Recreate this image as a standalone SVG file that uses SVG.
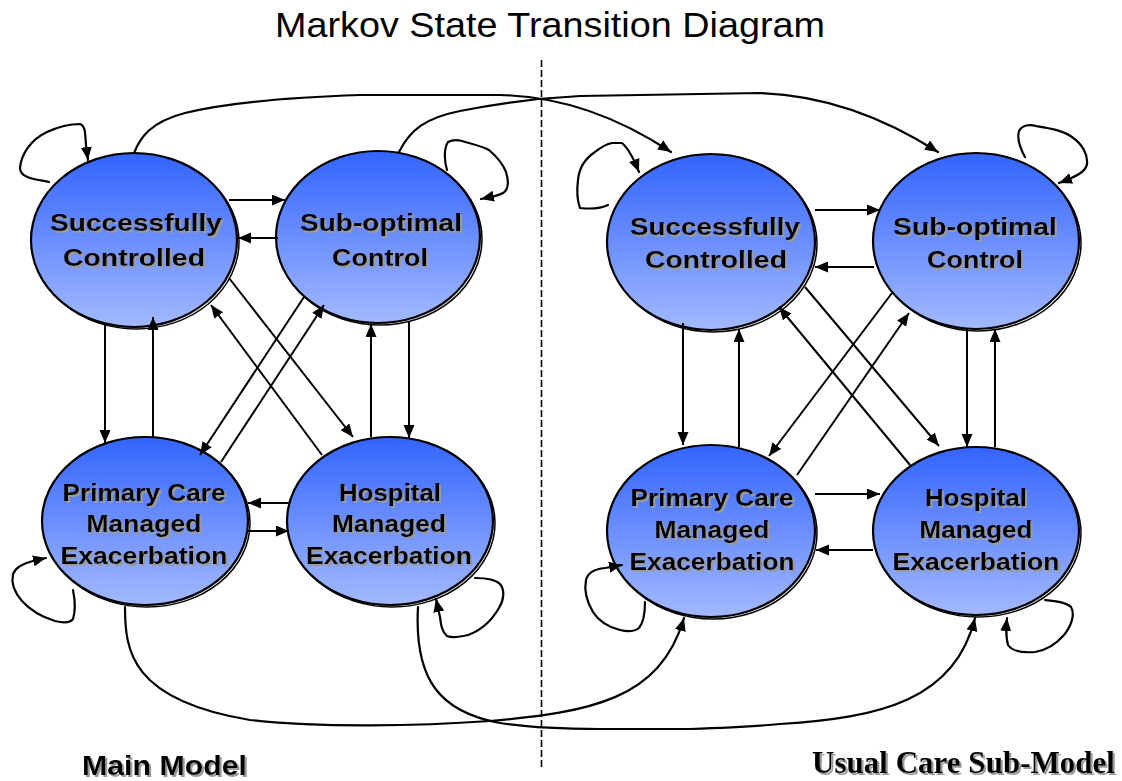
<svg xmlns="http://www.w3.org/2000/svg" width="1122" height="781" viewBox="0 0 1122 781">
  <defs>
    <linearGradient id="stateFill" x1="0" y1="0" x2="0" y2="1">
      <stop offset="0" stop-color="#3264fe"/>
      <stop offset="1" stop-color="#a3b9ff"/>
    </linearGradient>
    <filter id="textShadow" x="-5%" y="-20%" width="115%" height="160%">
      <feOffset in="SourceAlpha" dx="1.5" dy="1.5" result="off"/>
      <feFlood flood-color="#9a9a9a"/>
      <feComposite in2="off" operator="in" result="shade"/>
      <feMerge>
        <feMergeNode in="shade"/>
        <feMergeNode in="SourceGraphic"/>
      </feMerge>
    </filter>
    <marker id="arrow" markerUnits="userSpaceOnUse" markerWidth="15" markerHeight="13" refX="13" refY="5.5" orient="auto">
      <path d="M0,0 L13,5.5 L0,11 Z" fill="#000"/>
    </marker>
    <style>
      .state { fill: url(#stateFill); stroke: #000; stroke-width: 2.2; }
      .rim { fill: none; stroke: #000; stroke-width: 1.5; }
      .lbl { font-family: "Liberation Sans", Arial, sans-serif; font-weight: bold; font-size: 24px; fill: #000; text-anchor: middle; filter: url(#textShadow); }
      .edge { fill: none; stroke: #000; stroke-width: 2; marker-end: url(#arrow); }
      .curve { fill: none; stroke: #000; stroke-width: 2.2; stroke-linejoin: round; stroke-linecap: round; marker-end: url(#arrow); }
    </style>
  </defs>

  <rect width="1122" height="781" fill="#fff"/>

  <!-- title -->
  <text x="550" y="37" font-family="Liberation Sans, Arial, sans-serif" font-size="35" text-anchor="middle" textLength="550" lengthAdjust="spacingAndGlyphs">Markov State Transition Diagram</text>

  <!-- divider between the two models -->
  <line x1="541.5" y1="60" x2="541.5" y2="767" stroke="#000" stroke-width="1.6" stroke-dasharray="7 3"/>

  <!-- main model states -->
  <g id="main-successfully-controlled">
    <ellipse class="rim" cx="136" cy="242" rx="103" ry="87"/>
    <ellipse class="state" cx="134" cy="240" rx="103" ry="87"/>
    <text class="lbl" x="136" y="231" textLength="172" lengthAdjust="spacingAndGlyphs">Successfully</text>
    <text class="lbl" x="134" y="266" textLength="142" lengthAdjust="spacingAndGlyphs">Controlled</text>
  </g>
  <g id="main-suboptimal-control">
    <ellipse class="rim" cx="380" cy="239" rx="102" ry="86"/>
    <ellipse class="state" cx="378" cy="237" rx="102" ry="86"/>
    <text class="lbl" x="381" y="231" textLength="162" lengthAdjust="spacingAndGlyphs">Sub-optimal</text>
    <text class="lbl" x="380" y="266" textLength="96" lengthAdjust="spacingAndGlyphs">Control</text>
  </g>
  <g id="main-primary-care">
    <ellipse class="rim" cx="147" cy="523" rx="103" ry="84"/>
    <ellipse class="state" cx="145" cy="521" rx="103" ry="84"/>
    <text class="lbl" x="144" y="501" textLength="163" lengthAdjust="spacingAndGlyphs">Primary Care</text>
    <text class="lbl" x="144" y="532" textLength="115" lengthAdjust="spacingAndGlyphs">Managed</text>
    <text class="lbl" x="144" y="564" textLength="167" lengthAdjust="spacingAndGlyphs">Exacerbation</text>
  </g>
  <g id="main-hospital">
    <ellipse class="rim" cx="392" cy="523" rx="103" ry="84"/>
    <ellipse class="state" cx="390" cy="521" rx="103" ry="84"/>
    <text class="lbl" x="390" y="501" textLength="102" lengthAdjust="spacingAndGlyphs">Hospital</text>
    <text class="lbl" x="389" y="532" textLength="114" lengthAdjust="spacingAndGlyphs">Managed</text>
    <text class="lbl" x="389" y="564" textLength="166" lengthAdjust="spacingAndGlyphs">Exacerbation</text>
  </g>

  <!-- usual care sub-model states -->
  <g id="usual-successfully-controlled">
    <ellipse class="rim" cx="713" cy="244" rx="104" ry="88"/>
    <ellipse class="state" cx="711" cy="242" rx="104" ry="88"/>
    <text class="lbl" x="715" y="235" textLength="170" lengthAdjust="spacingAndGlyphs">Successfully</text>
    <text class="lbl" x="716" y="268" textLength="142" lengthAdjust="spacingAndGlyphs">Controlled</text>
  </g>
  <g id="usual-suboptimal-control">
    <ellipse class="rim" cx="978" cy="243" rx="103" ry="88"/>
    <ellipse class="state" cx="976" cy="241" rx="103" ry="88"/>
    <text class="lbl" x="975" y="235" textLength="164" lengthAdjust="spacingAndGlyphs">Sub-optimal</text>
    <text class="lbl" x="975" y="268" textLength="96" lengthAdjust="spacingAndGlyphs">Control</text>
  </g>
  <g id="usual-primary-care">
    <ellipse class="rim" cx="713" cy="533" rx="104" ry="86"/>
    <ellipse class="state" cx="711" cy="531" rx="104" ry="86"/>
    <text class="lbl" x="712" y="506" textLength="163" lengthAdjust="spacingAndGlyphs">Primary Care</text>
    <text class="lbl" x="712" y="538" textLength="115" lengthAdjust="spacingAndGlyphs">Managed</text>
    <text class="lbl" x="712" y="570" textLength="165" lengthAdjust="spacingAndGlyphs">Exacerbation</text>
  </g>
  <g id="usual-hospital">
    <ellipse class="rim" cx="978" cy="533" rx="103" ry="84"/>
    <ellipse class="state" cx="976" cy="531" rx="103" ry="84"/>
    <text class="lbl" x="976" y="506" textLength="102" lengthAdjust="spacingAndGlyphs">Hospital</text>
    <text class="lbl" x="976" y="538" textLength="113" lengthAdjust="spacingAndGlyphs">Managed</text>
    <text class="lbl" x="976" y="570" textLength="167" lengthAdjust="spacingAndGlyphs">Exacerbation</text>
  </g>

  <!-- transitions -->
  <g id="connectors">
    <!-- main model: straight transitions -->
    <path class="edge" d="M229,200 L285,200"/>
    <path class="edge" d="M278,238 L238,238"/>
    <path class="edge" d="M105,324 L105,443"/>
    <path class="edge" d="M153,437 L153,317"/>
    <path class="edge" d="M409,322 L409,438"/>
    <path class="edge" d="M371,437 L371,324"/>
    <path class="edge" d="M229,278 L353,437"/>
    <path class="edge" d="M322,455 L211,305"/>
    <path class="edge" d="M304,297 L200,455"/>
    <path class="edge" d="M221,462 L324,305"/>
    <path class="edge" d="M290,503 L248,503"/>
    <path class="edge" d="M247,531 L289,531"/>

    <!-- usual care sub-model: straight transitions -->
    <path class="edge" d="M815,210 L880,210"/>
    <path class="edge" d="M874,267 L815,267"/>
    <path class="edge" d="M683,323 L683,445"/>
    <path class="edge" d="M739,447 L739,329"/>
    <path class="edge" d="M967,328 L967,447"/>
    <path class="edge" d="M995,447 L995,329"/>
    <path class="edge" d="M805,287 L939,446"/>
    <path class="edge" d="M910,465 L779,307"/>
    <path class="edge" d="M892,293 L769,456"/>
    <path class="edge" d="M797,475 L909,313"/>
    <path class="edge" d="M815,494 L880,494"/>
    <path class="edge" d="M873,550 L816,550"/>

    <!-- self loops -->
    <path class="curve" d="M49,182 C35,179 20,178 20,168 C21,155 30,140 47,132 C60,126 72,124 80,124 C86,126 85,135 86,145 L88,160"/>
    <path class="curve" d="M447,170 C444,160 444,148 448,142 C452,140 458,140 462,141 C472,144 482,146 489,150 C496,156 503,164 506,172 C509,182 508,190 503,193 C498,196 490,197 481,199"/>
    <path class="curve" d="M73,590 C75,600 76,610 73,619 C70,623 63,623 55,621 C42,617 30,610 22,601 C15,593 11,583 13,574 C16,566 25,563 33,561 L46,558"/>
    <path class="curve" d="M475,578 C485,578 495,579 500,584 C505,590 504,600 499,608 C492,620 482,630 468,635 C460,637 452,638 447,636 C442,632 441,625 440,617 L436,599"/>
    <path class="curve" d="M608,205 C602,208 590,209 580,208 C577,200 577,188 578,180 C579,168 586,158 595,152 C600,148 606,144 612,143 L622,143 C628,148 633,157 639,172"/>
    <path class="curve" d="M1025,157 C1020,148 1017,138 1019,131 C1022,125 1030,124 1036,126 C1048,128 1062,130 1072,137 C1082,144 1088,154 1087,164 C1086,172 1075,177 1059,183"/>
    <path class="curve" d="M645,602 C645,612 644,622 639,628 C634,632 628,632 620,630 C608,627 598,620 593,612 C587,602 584,590 586,580 C588,572 595,569 605,568 L622,565"/>
    <path class="curve" d="M1045,600 C1055,601 1066,602 1071,607 C1075,614 1072,625 1064,635 C1057,643 1048,650 1035,652 C1022,653 1012,651 1008,645 C1006,638 1006,628 1007,618"/>

    <!-- transitions from the main model into the usual care sub-model -->
    <path class="curve" d="M134,153 C140,138 150,122 185,113 C230,102 300,97 360,95 L500,95 C560,96 615,115 671,152"/>
    <path class="curve" d="M399,152 C410,130 425,118 460,111 C500,103 540,98 580,96 L760,93 C820,95 880,115 938,152"/>
    <path class="curve" d="M125,607 C125,650 130,700 250,720 C320,728 420,726 490,721 C590,712 660,700 684,618"/>
    <path class="curve" d="M418,607 C414,680 440,712 500,723 C530,728 560,729 600,729 L690,729 C720,728 750,727 780,724 C880,718 955,700 975,618"/>
  </g>

  <!-- model captions -->
  <text x="82" y="775" font-family="Liberation Sans, Arial, sans-serif" font-weight="bold" font-size="28" textLength="165" lengthAdjust="spacingAndGlyphs" filter="url(#textShadow)">Main Model</text>
  <text x="812" y="773" font-family="Liberation Serif, Times New Roman, serif" font-weight="bold" font-size="31" textLength="303" lengthAdjust="spacingAndGlyphs" filter="url(#textShadow)">Usual Care Sub-Model</text>
</svg>
